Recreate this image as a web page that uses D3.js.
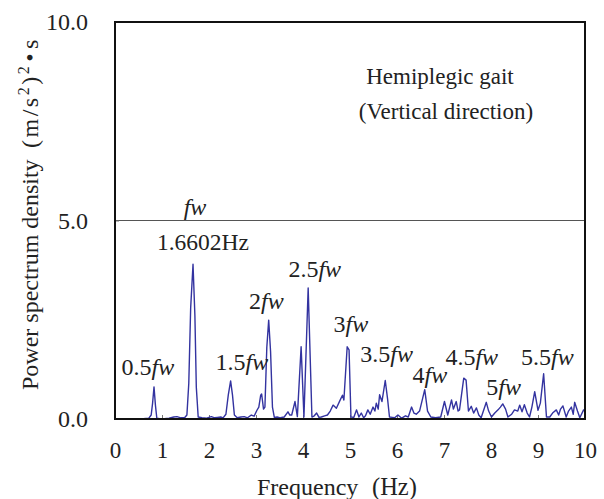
<!DOCTYPE html>
<html>
<head>
<meta charset="utf-8">
<title>Hemiplegic gait PSD</title>
<script src="https://cdn.jsdelivr.net/npm/d3@7"></script>
<style>
  body { margin: 0; background: #fff; }
  text { font-family: "Liberation Serif", "Times New Roman", serif; fill: #222; }
</style>
</head>
<body>
<script>
// spectrum (Hz, PSD)
var freq = [0.00, 0.20, 0.40, 0.60, 0.72, 0.77, 0.80, 0.83, 0.86, 0.89, 0.95, 1.05, 1.15, 1.25, 1.32, 1.40, 1.48,
  1.53, 1.57, 1.61, 1.66, 1.70, 1.73, 1.77, 1.85, 1.95, 2.05, 2.12, 2.18, 2.25, 2.30, 2.36, 2.41, 2.46, 2.50, 2.54,
  2.60, 2.68, 2.75, 2.82, 2.90, 2.96, 3.02, 3.06, 3.10, 3.12, 3.16, 3.19, 3.23, 3.27, 3.31, 3.35, 3.39, 3.45, 3.52,
  3.60, 3.68, 3.72, 3.76, 3.83, 3.88, 3.96, 4.02, 4.11, 4.19, 4.24, 4.29, 4.34, 4.39, 4.46, 4.52, 4.58, 4.64, 4.71,
  4.78, 4.84, 4.87, 4.94, 4.98, 5.02, 5.08, 5.14, 5.19, 5.24, 5.29, 5.33, 5.38, 5.43, 5.49, 5.53, 5.56, 5.60, 5.63,
  5.68, 5.75, 5.80, 5.84, 5.90, 5.95, 6.02, 6.10, 6.18, 6.24, 6.31, 6.36, 6.41, 6.48, 6.59, 6.65, 6.72, 6.82, 6.93,
  7.01, 7.08, 7.16, 7.20, 7.26, 7.30, 7.33, 7.42, 7.47, 7.52, 7.58, 7.63, 7.69, 7.74, 7.79, 7.90, 7.95, 8.01, 8.08,
  8.15, 8.20, 8.25, 8.31, 8.36, 8.44, 8.50, 8.57, 8.61, 8.66, 8.71, 8.77, 8.82, 8.87, 8.93, 9.00, 9.05, 9.12, 9.18,
  9.25, 9.31, 9.39, 9.44, 9.48, 9.53, 9.60, 9.65, 9.71, 9.75, 9.78, 9.84, 9.89, 9.97, 10.00];
var psd = [0.01, 0.01, 0.01, 0.01, 0.02, 0.10, 0.40, 0.81, 0.35, 0.02, 0.01, 0.01, 0.02, 0.05, 0.06, 0.03, 0.03,
  0.10, 0.90, 2.80, 3.90, 2.60, 0.80, 0.05, 0.03, 0.02, 0.06, 0.03, 0.04, 0.05, 0.03, 0.12, 0.60, 0.96, 0.60, 0.10,
  0.03, 0.05, 0.06, 0.03, 0.10, 0.07, 0.22, 0.30, 0.60, 0.63, 0.25, 0.30, 1.80, 2.49, 1.70, 0.30, 0.04, 0.05, 0.03,
  0.05, 0.18, 0.10, 0.10, 0.44, 0.06, 1.82, 0.05, 3.30, 0.05, 0.08, 0.15, 0.04, 0.05, 0.08, 0.10, 0.20, 0.35, 0.27,
  0.45, 0.60, 0.48, 1.82, 1.74, 0.05, 0.04, 0.23, 0.05, 0.15, 0.03, 0.08, 0.23, 0.12, 0.30, 0.20, 0.40, 0.25, 0.61,
  0.44, 0.97, 0.50, 0.05, 0.04, 0.03, 0.10, 0.02, 0.08, 0.05, 0.30, 0.15, 0.12, 0.20, 0.74, 0.20, 0.05, 0.03, 0.05,
  0.44, 0.10, 0.48, 0.25, 0.44, 0.20, 0.23, 1.03, 0.98, 0.20, 0.32, 0.15, 0.28, 0.10, 0.03, 0.42, 0.20, 0.05, 0.15,
  0.23, 0.30, 0.38, 0.25, 0.05, 0.12, 0.23, 0.20, 0.35, 0.18, 0.36, 0.15, 0.05, 0.30, 0.69, 0.22, 0.40, 1.14, 0.05,
  0.05, 0.15, 0.23, 0.10, 0.25, 0.33, 0.05, 0.20, 0.30, 0.12, 0.42, 0.20, 0.03, 0.23, 0.20];

var xTicks = [0, 1, 2, 3, 4, 5, 6, 7, 8, 9, 10];
var yTicks = [0, 5, 10];

// harmonic labels: text, Hz, psd (baseline, centred)
var harmLabels = ["0.5", "1.5", "2", "2.5", "3", "3.5", "4", "4.5", "5", "5.5"];
var harmX = [0.70, 2.70, 3.22, 4.25, 5.02, 5.78, 6.70, 7.59, 8.27, 9.20];
var harmY = [1.11, 1.23, 2.77, 3.58, 2.19, 1.44, 0.91, 1.36, 0.61, 1.36];

var w = 604, h = 499;
var margin = {left: 115, right: 19, top: 22, bottom: 80};

var svg = d3.select("body").append("svg")
  .attr("width", w)
  .attr("height", h);

var x = d3.scaleLinear().domain([0, 10]).range([margin.left, w - margin.right]);
var y = d3.scaleLinear().domain([0, 10]).range([h - margin.bottom, margin.top]);

// gridline at 5.0
svg.append("line")
  .attr("x1", x(0)).attr("x2", x(10))
  .attr("y1", y(5)).attr("y2", y(5))
  .attr("stroke", "#555").attr("stroke-width", 1);

// inside ticks
var xAxis = svg.append("g")
  .attr("transform", "translate(0," + y(0) + ")")
  .call(d3.axisBottom(x).tickValues(xTicks).tickSizeInner(-4).tickSizeOuter(0).tickPadding(0));
xAxis.select(".domain").remove();
xAxis.selectAll("line").attr("stroke", "#777");
xAxis.selectAll("text")
  .attr("y", 39).attr("dy", null)
  .style("font-size", "23px").style("font-family", "Liberation Serif").attr("fill", "#222");

var yAxis = svg.append("g")
  .attr("transform", "translate(" + x(0) + ",0)")
  .call(d3.axisLeft(y).tickValues(yTicks).tickFormat(d3.format(".1f")).tickSizeInner(-4).tickSizeOuter(0).tickPadding(27));
yAxis.select(".domain").remove();
yAxis.selectAll("line").attr("stroke", "#777");
yAxis.selectAll("text")
  .style("font-size", "24px").style("font-family", "Liberation Serif").attr("fill", "#222");

// spectrum
var line = d3.line()
  .x(function(d, i) { return x(freq[i]); })
  .y(function(d) { return y(d); });

svg.append("path")
  .datum(psd)
  .attr("d", line)
  .attr("fill", "none")
  .attr("stroke", "#3333a0")
  .attr("stroke-width", 1.4)
  .attr("stroke-linejoin", "round");

// frame
svg.append("rect")
  .attr("x", x(0)).attr("y", y(10))
  .attr("width", x(10) - x(0)).attr("height", y(0) - y(10))
  .attr("fill", "none").attr("stroke", "#111").attr("stroke-width", 2);

// harmonic annotations
harmLabels.forEach(function(lab, i) {
  var t = svg.append("text")
    .attr("x", x(harmX[i])).attr("y", y(harmY[i]))
    .attr("text-anchor", "middle")
    .style("font-size", "24px");
  t.append("tspan").text(lab);
  t.append("tspan").attr("font-style", "italic").text("fw");
});

svg.append("text")
  .attr("x", 195).attr("y", 215)
  .attr("text-anchor", "middle")
  .attr("font-style", "italic")
  .style("font-size", "24px")
  .text("fw");

svg.append("text")
  .attr("x", 203).attr("y", 250)
  .attr("text-anchor", "middle")
  .style("font-size", "23.5px")
  .text("1.6602Hz");

svg.append("text")
  .attr("x", 440).attr("y", 84)
  .attr("text-anchor", "middle")
  .style("font-size", "23px")
  .text("Hemiplegic gait");

svg.append("text")
  .attr("x", 446).attr("y", 119)
  .attr("text-anchor", "middle")
  .style("font-size", "23px")
  .text("(Vertical direction)");

// axis titles
svg.append("text")
  .attr("x", 257).attr("y", 495)
  .style("font-size", "24px")
  .text("Frequency");
svg.append("text")
  .attr("x", 372).attr("y", 495)
  .style("font-size", "24.5px")
  .text("(Hz)");

svg.append("text")
  .attr("transform", "translate(38,390) rotate(-90)")
  .style("font-size", "24px")
  .text("Power spectrum density");

var yl = svg.append("text")
  .attr("transform", "translate(38,148) rotate(-90)")
  .style("font-size", "24px")
  .style("letter-spacing", "2.5px");
yl.append("tspan").text("(m/s");
yl.append("tspan").attr("dy", -9).style("font-size", "16px").text("2");
yl.append("tspan").attr("dy", 9).text(")");
yl.append("tspan").attr("dy", -9).style("font-size", "16px").text("2");
yl.append("tspan").attr("dy", 9).attr("dx", 2).text("\u2022");
yl.append("tspan").attr("dx", 2).text("s");
</script>
</body>
</html>
